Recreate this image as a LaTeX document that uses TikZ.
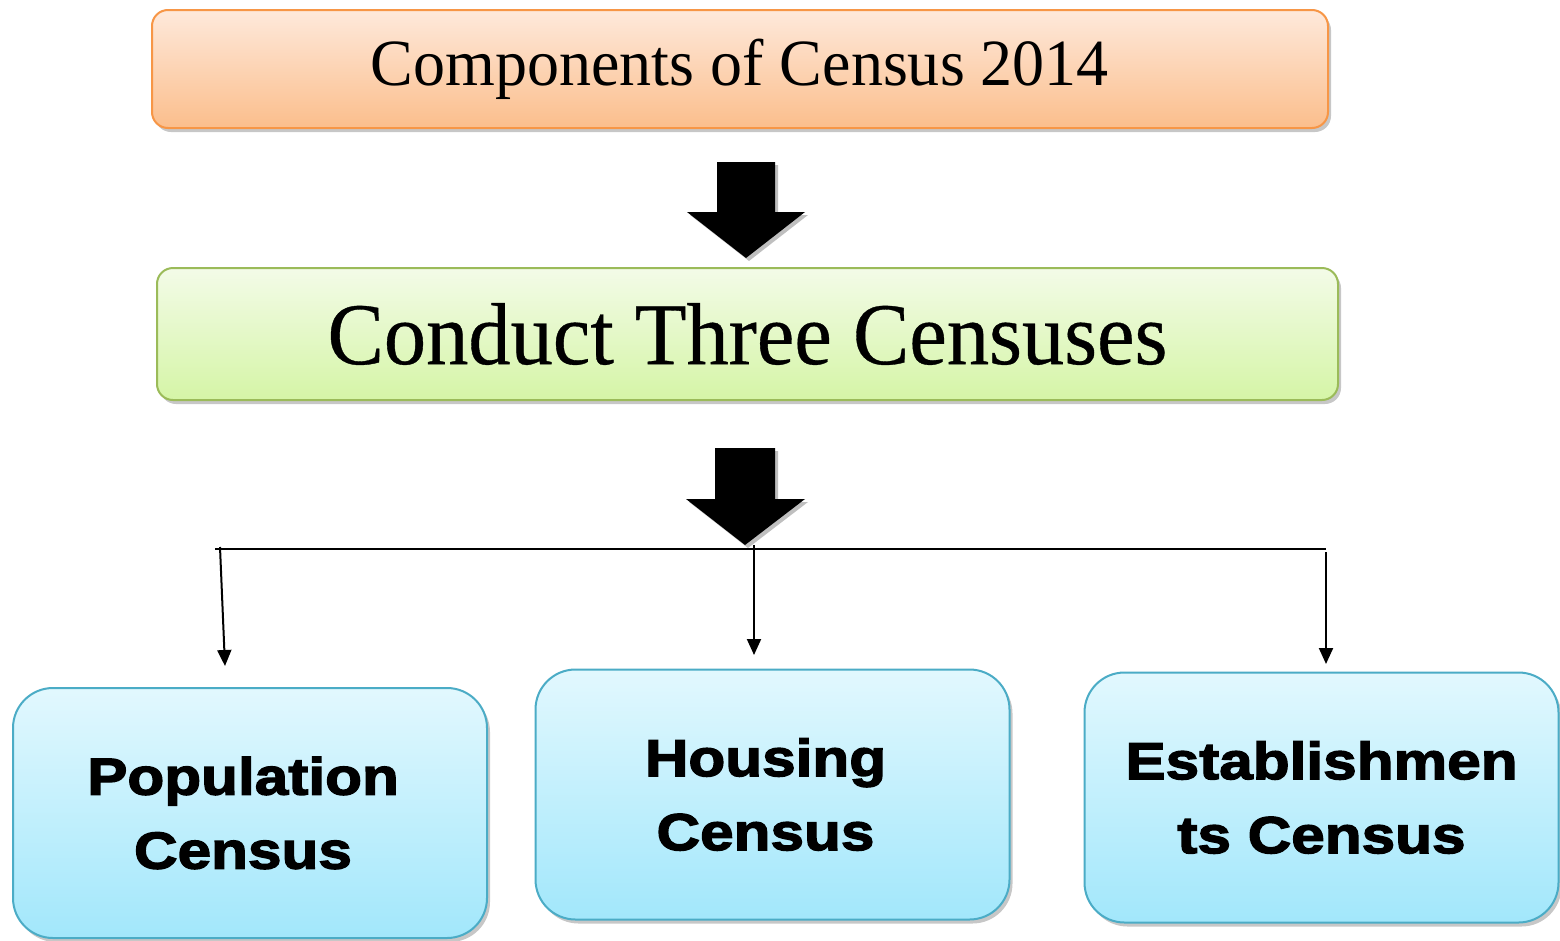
\documentclass[tikz,border=0pt]{standalone}
\usepackage{fontspec}
\setmainfont{Liberation Serif}
\newfontfamily\headfont{Liberation Serif}[FakeStretch=0.97]
\newfontfamily\midfont{Liberation Serif}[FakeStretch=0.96,FakeBold=0.4]
\newfontfamily\heavyfont{Liberation Sans Bold}[FakeBold=2.6,FakeStretch=1.16]
\usetikzlibrary{shadows,arrows.meta}
\definecolor{orBorder}{HTML}{F79646}
\definecolor{orTop}{HTML}{FEE9DB}
\definecolor{orBot}{HTML}{FBBE8C}
\definecolor{grBorder}{HTML}{9BBB59}
\definecolor{grTop}{HTML}{F3FBE8}
\definecolor{grBot}{HTML}{D5F5A6}
\definecolor{blBorder}{HTML}{4BACC6}
\definecolor{blTop}{HTML}{E2F8FE}
\definecolor{blBot}{HTML}{A2E7FB}
\tikzset{
  boxshadow/.style={drop shadow={shadow xshift=3pt,shadow yshift=-4pt,fill=black,opacity=0.22}},
  topbox/.style={draw=orBorder,line width=2pt,rounded corners=16pt,top color=orTop,bottom color=orBot,
    inner sep=0pt,boxshadow,font=\headfont\fontsize{66}{74}\selectfont},
  midbox/.style={draw=grBorder,line width=2pt,rounded corners=16pt,top color=grTop,bottom color=grBot,
    inner sep=0pt,boxshadow,font=\midfont\fontsize{88}{96}\selectfont},
  leafbox/.style={draw=blBorder,line width=2pt,rounded corners=40pt,top color=blTop,bottom color=blBot,
    inner sep=0pt,boxshadow,minimum width=474pt,minimum height=250pt,align=center,
    font=\heavyfont\fontsize{52}{74}\selectfont},
  blockarrow/.style={fill=black,drop shadow={shadow xshift=3pt,shadow yshift=-3pt,fill=black,opacity=0.25}},
  conn/.style={line width=2pt,draw=black},
  connarrow/.style={conn,-{Triangle[width=14pt,length=16pt]}}
}
\begin{document}
\begin{tikzpicture}[x=1pt,y=-1pt]
\useasboundingbox (0,0) rectangle (1560,940);
\fill[white] (0,0) rectangle (1560,940);
\node[topbox,minimum width=1176pt,minimum height=118pt] (comp) at (740,69) {Components of Census 2014};
\node[midbox,minimum width=1181pt,minimum height=132pt] (cond) at (747.5,334) {Conduct Three Censuses};
% block arrows
\fill[blockarrow] (717,162) -- (775,162) -- (775,212) -- (805,212) -- (746,258) -- (687,212) -- (717,212) -- cycle;
\fill[blockarrow] (715,448) -- (775,448) -- (775,499) -- (805,499) -- (745,545) -- (686,499) -- (715,499) -- cycle;
% bottom boxes
\node[leafbox] (pop) at (250,813) {\hspace*{-14pt}Population\\\hspace*{-14pt}Census};
\node[leafbox] (hou) at (772.5,794.5) {\hspace*{-14pt}Housing\\\hspace*{-14pt}Census};
\node[leafbox] (est) at (1321.5,797.5) {Establishmen\\ts Census};
% connectors
\coordinate (busL) at (215,549);
\coordinate (busR) at (1326,549);
\coordinate (aLs) at (220,547);
\coordinate (aLe) at (225,666);
\coordinate (aMs) at (754,545);
\coordinate (aMe) at (754,655);
\coordinate (aRs) at (1326,552);
\coordinate (aRe) at (1326,664);
\draw[conn] (busL) -- (busR);
\draw[connarrow] (aLs) -- (aLe);
\draw[connarrow] (aMs) -- (aMe);
\draw[connarrow] (aRs) -- (aRe);
\end{tikzpicture}
\end{document}
